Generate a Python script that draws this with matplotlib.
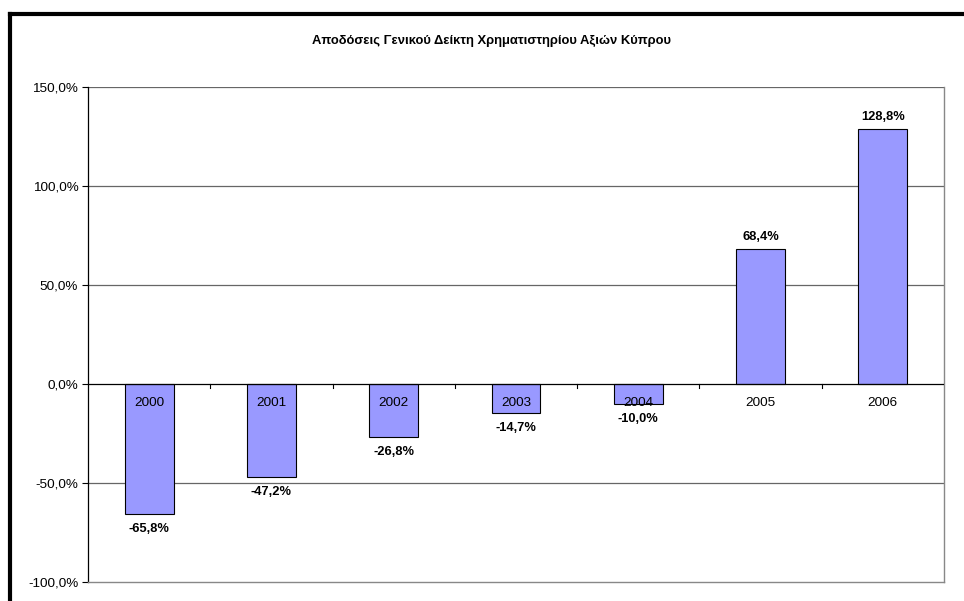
import matplotlib
matplotlib.use("Agg")
import matplotlib.pyplot as plt
from matplotlib.lines import Line2D

years = ["2000", "2001", "2002", "2003", "2004", "2005", "2006"]
returns = [-65.8, -47.2, -26.8, -14.7, -10.0, 68.4, 128.8]
yticks = [-100, -50, 0, 50, 100, 150]
title = "Αποδόσεις Γενικού Δείκτη Χρηματιστηρίου Αξιών Κύπρου"

plt.rcParams['font.family'] = ['Liberation Sans', 'DejaVu Sans']

W, H = 964, 601
fig = plt.figure(figsize=(W / 100, H / 100), dpi=100)
# plot area in pixels: x 88..944, y 87..582
x0, x1, y0, y1 = 88, 944, 87, 582
ax = fig.add_axes([x0 / W, 1 - y1 / H, (x1 - x0) / W, (y1 - y0) / H])
px = (150 - (-100)) / (y1 - y0)  # data units per pixel

n = len(years)
pos = list(range(n))
ax.bar(pos, returns, width=0.4, color="#9999FF", edgecolor="black", linewidth=0.8, zorder=3)
ax.set_xlim(-0.5, n - 0.5)
ax.set_ylim(-100, 150)
ax.set_yticks(yticks)
ax.set_yticklabels([f"{v:.1f}%".replace(".", ",") for v in yticks], fontsize=9.7)
for v in yticks:
    if v not in (0, -100):
        ax.axhline(v, color="#666666", linewidth=0.9, zorder=1)
ax.axhline(0, color="black", linewidth=0.9, zorder=4)

ax.set_xticks([])
ax.tick_params(axis="y", length=4, width=0.8, color="black", direction="out", pad=3)
for i in range(n - 1):
    ax.plot([i + 0.5, i + 0.5], [0, -4 * px], color="black", linewidth=0.8, zorder=4, clip_on=False)

for s in ["right", "bottom"]:
    ax.spines[s].set_color("#888888")
    ax.spines[s].set_linewidth(1.0)
ax.spines["top"].set_visible(False)
ax.spines["left"].set_color("black")
ax.spines["left"].set_linewidth(0.9)

for i, (y, v) in enumerate(zip(years, returns)):
    ax.text(i, -19 * px, y, ha="center", va="center", fontsize=9.7, zorder=5)
    lab = f"{v:.1f}%".replace(".", ",")
    if v >= 0:
        ax.text(i, v + 12 * px, lab, ha="center", va="center", fontsize=9.3, fontweight="bold", zorder=5)
    else:
        ax.text(i, v - 15 * px, lab, ha="center", va="center", fontsize=9.3, fontweight="bold", zorder=5)

fig.text(492 / W, 1 - 41 / H, title, ha="center", va="center", fontsize=9.4, fontweight="bold")

# outer black frame (left and top visible)
fig.add_artist(Line2D([10.3 / W, 10.3 / W], [0, 1 - 13.7 / H], transform=fig.transFigure, color="black", linewidth=3, solid_capstyle="projecting"))
fig.add_artist(Line2D([10.3 / W, 1], [1 - 13.7 / H, 1 - 13.7 / H], transform=fig.transFigure, color="black", linewidth=3, solid_capstyle="projecting"))

fig.savefig("out.png", dpi=100)
